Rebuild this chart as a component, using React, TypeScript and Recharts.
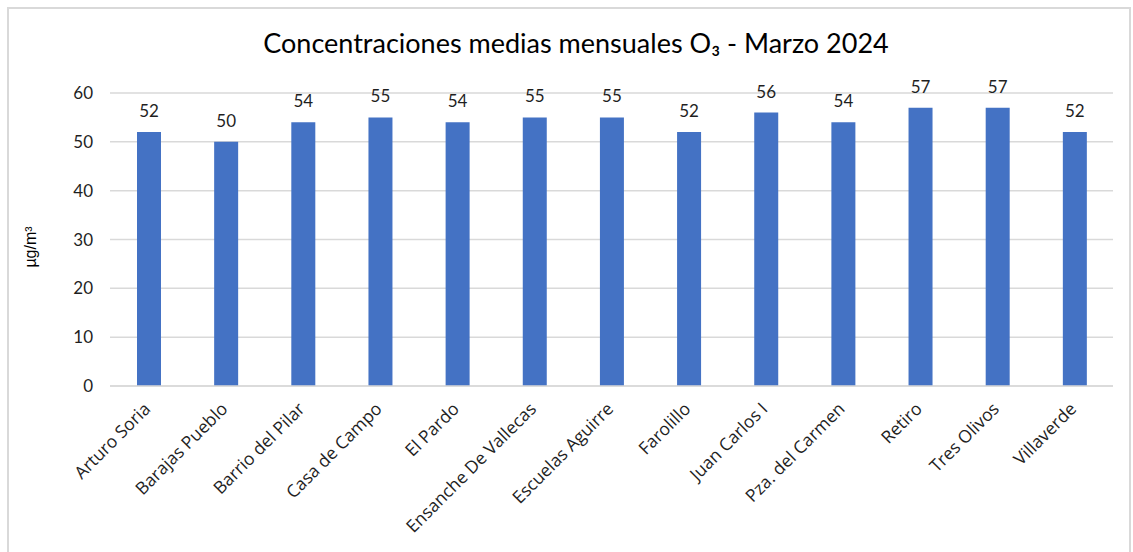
import React from 'react';
import { BarChart, Bar, XAxis, YAxis, CartesianGrid, LabelList } from 'recharts';

const stations = [
  'Arturo Soria', 'Barajas Pueblo', 'Barrio del Pilar', 'Casa de Campo', 'El Pardo',
  'Ensanche De Vallecas', 'Escuelas Aguirre', 'Farolillo', 'Juan Carlos I',
  'Pza. del Carmen', 'Retiro', 'Tres Olivos', 'Villaverde',
];
const o3Values = [52, 50, 54, 55, 54, 55, 55, 52, 56, 54, 57, 57, 52];
const yTicks = [0, 10, 20, 30, 40, 50, 60];
const titleText = 'Concentraciones medias mensuales O₃ - Marzo 2024';
const yLabel = 'µg/m³';

const data = stations.map((name, i) => ({ name, value: o3Values[i] }));

const FONT = 'Lato, "Open Sans", sans-serif';
const XFONT = 'Open Sans';
const TEXT = '#1f1f1f';

const XTick = (props: any) => {
  const { x, y, payload } = props;
  const tx = x + 3;
  const ty = y + 24;
  return (
    <text
      x={tx}
      y={ty}
      textAnchor="end"
      fill={TEXT}
      style={{ fontFamily: XFONT, fontSize: 17.5 }}
      transform={`rotate(-45, ${tx}, ${ty})`}
    >
      {payload.value}
    </text>
  );
};

export default function App() {
  return (
    <div
      style={{
        position: 'absolute',
        left: 7,
        top: 7,
        width: 1124,
        height: 560,
        border: '2px solid #d9d9d9',
        boxSizing: 'border-box',
        background: '#fff',
        fontFamily: FONT,
      }}
    >
      <div
        style={{
          position: 'absolute',
          left: 0,
          width: 1134,
          top: 18,
          textAlign: 'center',
          fontSize: 27,
          lineHeight: '32px',
          color: '#000',
          whiteSpace: 'nowrap',
        }}
      >
        {titleText}
      </div>
      <div
        style={{
          position: 'absolute',
          left: 22,
          top: 238,
          width: 0,
          height: 0,
        }}
      >
        <div
          style={{
            position: 'absolute',
            transform: 'translate(-50%, -50%) rotate(-90deg)',
            fontSize: 16,
            fontFamily: '"Liberation Sans", Arial, sans-serif',
            color: '#000',
            whiteSpace: 'nowrap',
            lineHeight: '18px',
          }}
        >
          {yLabel}
        </div>
      </div>
      <BarChart
        width={1120}
        height={556}
        data={data}
        margin={{ top: 84, right: 16, bottom: 9, left: 0 }}
      >
        <CartesianGrid vertical={false} stroke="#d9d9d9" strokeWidth={1.5} />
        <XAxis
          dataKey="name"
          interval={0}
          tickLine={false}
          tickSize={0}
          tickMargin={0}
          axisLine={{ stroke: '#d9d9d9', strokeWidth: 1.5 }}
          height={170}
          tick={<XTick />}
        />
        <YAxis
          domain={[0, 60]}
          ticks={yTicks}
          width={101}
          axisLine={false}
          tickLine={false}
          tickSize={0}
          tickMargin={17}
          tick={{ fill: TEXT, fontSize: 17, fontFamily: FONT }}
        />
        <Bar dataKey="value" fill="#4472C4" barSize={24} isAnimationActive={false}>
          <LabelList
            dataKey="value"
            position="top"
            offset={15}
            fill={TEXT}
            fontSize={17}
            fontFamily={FONT}
          />
        </Bar>
      </BarChart>
    </div>
  );
}
